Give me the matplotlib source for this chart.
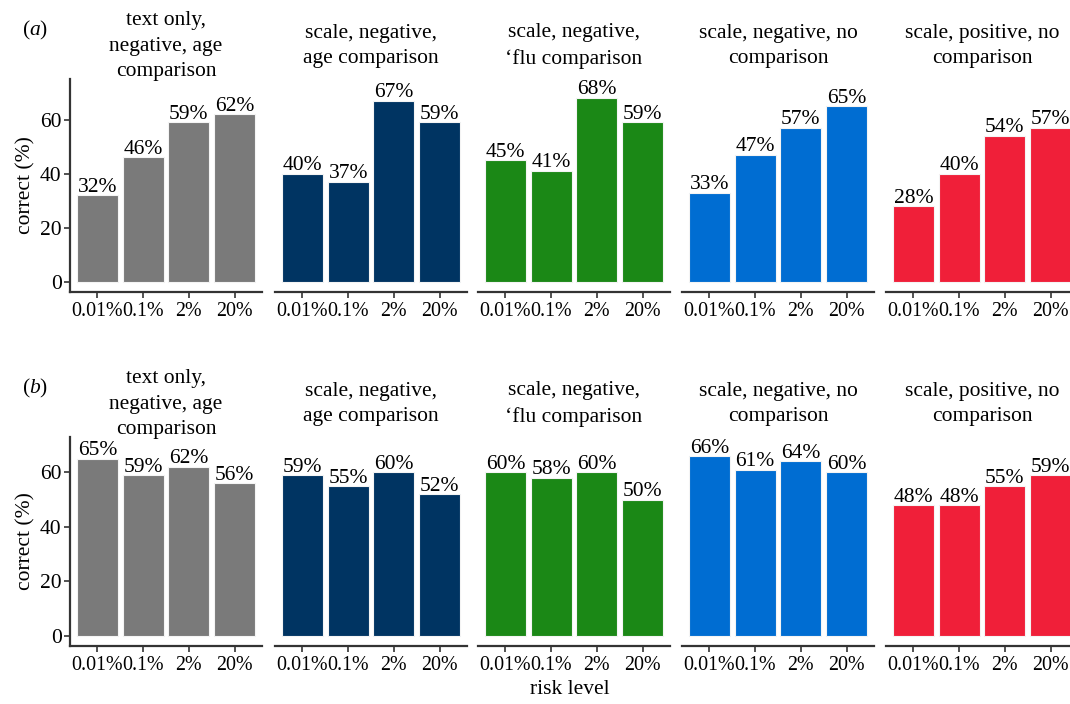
import matplotlib
matplotlib.use("Agg")
import matplotlib.pyplot as plt

plt.rcParams['font.family'] = ['Liberation Serif', 'DejaVu Serif']
plt.rcParams['mathtext.fontset'] = 'custom'
plt.rcParams['mathtext.it'] = 'Liberation Serif:italic'
plt.rcParams['mathtext.rm'] = 'Liberation Serif'

risk_levels = ['0.01%', '0.1%', '2%', '20%']
conditions = ['text only,\nnegative, age\ncomparison',
              'scale, negative,\nage comparison',
              'scale, negative,\n\u2018flu comparison',
              'scale, negative, no\ncomparison',
              'scale, positive, no\ncomparison']
colours = ['#7a7a7a', '#003462', '#1b8816', '#006dd2', '#f01f39']

# percent correct, one list per condition
correct_a = [[32, 46, 59, 62],
             [40, 37, 67, 59],
             [45, 41, 68, 59],
             [33, 47, 57, 65],
             [28, 40, 54, 57]]
correct_b = [[65, 59, 62, 56],
             [59, 55, 60, 52],
             [60, 58, 60, 50],
             [66, 61, 64, 60],
             [48, 48, 55, 59]]

FS = 15.5
TICK_FS = 14.4
W, H = 1070, 704
fig = plt.figure(figsize=(W / 100, H / 100), dpi=100)

panel_x = [(70, 262), (275, 467), (478, 670), (682, 874), (886, 1078)]
rows = [('a', correct_a, (79, 292), (-3.8, 75)),
        ('b', correct_b, (437, 646), (-3.8, 73))]

for tag, data, (top, bot), ylim in rows:
    for i, (x0, x1) in enumerate(panel_x):
        ax = fig.add_axes([x0 / W, 1 - bot / H, (x1 - x0) / W, (bot - top) / H])
        xs = range(1, 5)
        ax.bar(xs, data[i], width=0.9, color=colours[i],
               edgecolor='#f4f4f4', linewidth=0.8)
        for x, v in zip(xs, data[i]):
            ax.annotate(f'{v}%', (x, v), xytext=(0, 2.5), textcoords='offset points',
                        ha='center', va='baseline', fontsize=FS)
        ax.set_xlim(0.4, 4.6)
        ax.set_ylim(*ylim)
        ax.set_xticks(list(xs))
        ax.set_xticklabels(risk_levels, fontsize=TICK_FS)
        for s in ('top', 'right'):
            ax.spines[s].set_visible(False)
        ax.spines['bottom'].set_linewidth(1.6)
        ax.spines['bottom'].set_color('#333333')
        ax.tick_params(axis='x', length=4, width=1.2, color='#333333', pad=3)
        if i == 0:
            ax.spines['left'].set_linewidth(1.6)
            ax.spines['left'].set_color('#333333')
            ax.set_yticks([0, 20, 40, 60])
            ax.tick_params(axis='y', length=4, width=1.2, color='#333333',
                           labelsize=FS, pad=2)
            ax.set_ylabel('correct (%)', fontsize=FS, labelpad=3)
        else:
            ax.spines['left'].set_visible(False)
            ax.set_yticks([])
        # facet strip: title centred vertically above the panel
        ax.text((x0 + x1) / 2 / W, 1 - (top - 33) / H, conditions[i],
                transform=fig.transFigure, ha='center', va='center',
                fontsize=FS, linespacing=1.45)
    fig.text(22 / W, 1 - (top - 49) / H, rf'($\mathit{{{tag}}}$)', fontsize=FS,
             ha='left', va='center')

fig.text(570 / W, 1 - 690 / H, 'risk level', fontsize=FS, ha='center', va='center')

fig.savefig('out.png', dpi=100)
